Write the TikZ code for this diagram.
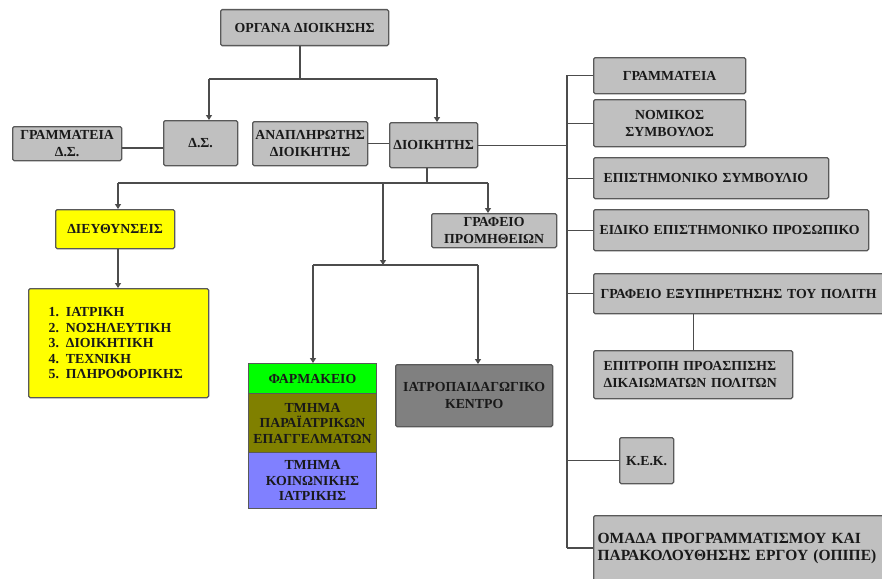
\documentclass[tikz,border=0pt]{standalone}
\usepackage{fontspec}
\setmainfont{Liberation Serif}
\usetikzlibrary{arrows.meta}
\definecolor{boxgray}{HTML}{C0C0C0}
\definecolor{boxyellow}{HTML}{FFFF00}
\definecolor{boxgreen}{HTML}{00FF00}
\definecolor{boxolive}{HTML}{808000}
\definecolor{boxblue}{HTML}{8080FF}
\definecolor{boxdark}{HTML}{808080}
\begin{document}
\begin{tikzpicture}[x=1pt,y=-1pt,
  every node/.style={font=\bfseries\fontsize{13.8}{17}\selectfont, text=black!90},
  box/.style={draw=black!65, line width=1.3pt, fill=boxgray, rounded corners=1.5pt,
    anchor=north west, inner sep=0pt, align=center},
  lbox/.style={box, align=left},
  tight/.style={font=\bfseries\fontsize{13.8}{15.5}\selectfont},
  stack/.style={box, rounded corners=0pt, line width=1pt},
  conn/.style={draw=black!70, line width=1.2pt},
  arr/.style={conn, -{Triangle[width=6pt,length=5pt]}}
]
\useasboundingbox (0,0) rectangle (882,578);

% top
\node[box, minimum width=168pt, minimum height=36pt] (org) at (220,9) {ΟΡΓΑΝΑ ΔΙΟΙΚΗΣΗΣ};
\node[box, minimum width=109pt, minimum height=34pt] (gds) at (12,126) {ΓΡΑΜΜΑΤΕΙΑ\\Δ.Σ.};
\node[box, minimum width=74pt, minimum height=45pt] (ds) at (163,120) {Δ.Σ.};
\node[box, minimum width=115pt, minimum height=44pt] (anap) at (252,121) {ΑΝΑΠΛΗΡΩΤΗΣ\\ΔΙΟΙΚΗΤΗΣ};
\node[box, minimum width=88pt, minimum height=45pt] (dioik) at (389,122) {ΔΙΟΙΚΗΤΗΣ};

% right column
\node[box, minimum width=152pt, minimum height=36pt] (gram) at (593,57) {ΓΡΑΜΜΑΤΕΙΑ};
\node[box, minimum width=152pt, minimum height=47pt] (nom) at (593,99) {ΝΟΜΙΚΟΣ\\ΣΥΜΒΟΥΛΟΣ};
\node[lbox, inner xsep=10pt, text width=215pt, minimum height=41pt] (epsym) at (593,157) {ΕΠΙΣΤΗΜΟΝΙΚΟ ΣΥΜΒΟΥΛΙΟ};
\node[lbox, inner xsep=6pt, text width=263pt, minimum height=41pt] (eidiko) at (593,209) {ΕΙΔΙΚΟ ΕΠΙΣΤΗΜΟΝΙΚΟ ΠΡΟΣΩΠΙΚΟ};
\node[lbox, inner xsep=7pt, text width=290pt, minimum height=40pt] (grafpol) at (593,273) {ΓΡΑΦΕΙΟ ΕΞΥΠΗΡΕΤΗΣΗΣ ΤΟΥ ΠΟΛΙΤΗ};
\node[lbox, inner xsep=10pt, text width=179pt, minimum height=48pt] (epitr) at (593,350) {ΕΠΙΤΡΟΠΗ ΠΡΟΑΣΠΙΣΗΣ\\ΔΙΚΑΙΩΜΑΤΩΝ ΠΟΛΙΤΩΝ};
\node[box, minimum width=54pt, minimum height=46pt] (kek) at (619,437) {Κ.Ε.Κ.};
\node[lbox, inner xsep=4pt, text width=300pt, minimum height=66pt,
  font=\bfseries\fontsize{15.5}{16.5}\selectfont] (omada) at (593,515) {ΟΜΑΔΑ ΠΡΟΓΡΑΜΜΑΤΙΣΜΟΥ ΚΑΙ\\ΠΑΡΑΚΟΛΟΥΘΗΣΗΣ ΕΡΓΟΥ (ΟΠΙΠΕ)};

% left / middle
\node[box, fill=boxyellow, minimum width=119pt, minimum height=39pt] (diefth) at (55,209) {ΔΙΕΥΘΥΝΣΕΙΣ};
\node[lbox, fill=boxyellow, inner xsep=20pt, text width=140pt, minimum height=109pt, tight] (list) at (28,288)
  {1. ΙΑΤΡΙΚΗ\\2. ΝΟΣΗΛΕΥΤΙΚΗ\\3. ΔΙΟΙΚΗΤΙΚΗ\\4. ΤΕΧΝΙΚΗ\\5. ΠΛΗΡΟΦΟΡΙΚΗΣ};
\node[box, minimum width=125pt, minimum height=34pt] (promi) at (431,213) {ΓΡΑΦΕΙΟ\\ΠΡΟΜΗΘΕΙΩΝ};
\node[stack, fill=boxgreen, minimum width=128pt, minimum height=30pt] (farm) at (248,363) {ΦΑΡΜΑΚΕΙΟ};
\node[stack, fill=boxolive, minimum width=128pt, minimum height=59pt, tight] (para) at (248,393) {ΤΜΗΜΑ\\ΠΑΡΑΪΑΤΡΙΚΩΝ\\ΕΠΑΓΓΕΛΜΑΤΩΝ};
\node[stack, fill=boxblue, minimum width=128pt, minimum height=56pt, tight] (koin) at (248,452) {ΤΜΗΜΑ\\ΚΟΙΝΩΝΙΚΗΣ\\ΙΑΤΡΙΚΗΣ};
\node[box, fill=boxdark, minimum width=157pt, minimum height=62pt] (iatro) at (395,364) {ΙΑΤΡΟΠΑΙΔΑΓΩΓΙΚΟ\\ΚΕΝΤΡΟ};

% connectors: top
\coordinate (j0) at (300,79);
\coordinate (jL) at (209,79);
\coordinate (jR) at (437,79);
\draw[conn] (j0 |- org.south) -- (j0);
\draw[conn] (jL) -- (jR);
\draw[arr] (jL) -- (jL |- ds.north);
\draw[arr] (jR) -- (jR |- dioik.north);
\coordinate (yg) at (0,148);
\draw[conn] (gds.east |- yg) -- (ds.west |- yg);
\draw[conn] (anap.east) -- (anap.east -| dioik.west);

% bus
\coordinate (bt) at (567,75);
\coordinate (bb) at (567,548);
\draw[conn] (bt) -- (bb);
\draw[conn] (dioik.east) -- (dioik.east -| bt);
\draw[conn] (gram.west) -- (gram.west -| bt);
\draw[conn] (nom.west) -- (nom.west -| bt);
\draw[conn] (epsym.west) -- (epsym.west -| bt);
\draw[conn] (eidiko.west) -- (eidiko.west -| bt);
\draw[conn] (grafpol.west) -- (grafpol.west -| bt);
\draw[conn] (kek.west) -- (kek.west -| bt);
\draw[conn] (bb) -- (bb -| omada.west);
\draw[conn] (epitr.north) -- (epitr.north |- grafpol.south);

% connectors: below director
\coordinate (jd) at (427,183);
\coordinate (jdl) at (118,183);
\coordinate (jdr) at (488,183);
\draw[conn] (jd |- dioik.south) -- (jd);
\draw[conn] (jdl) -- (jdr);
\draw[arr] (jdl) -- (jdl |- diefth.north);
\draw[arr] (jdr) -- (jdr |- promi.north);
\draw[arr] (jdl |- diefth.south) -- (jdl |- list.north);
\coordinate (jm) at (383,183);
\coordinate (jm2) at (383,265);
\coordinate (jml) at (313,265);
\coordinate (jmr) at (478,265);
\draw[arr] (jm) -- (jm2);
\draw[conn] (jml) -- (jmr);
\draw[arr] (jml) -- (jml |- farm.north);
\draw[arr] (jmr) -- (jmr |- iatro.north);
\end{tikzpicture}
\end{document}
